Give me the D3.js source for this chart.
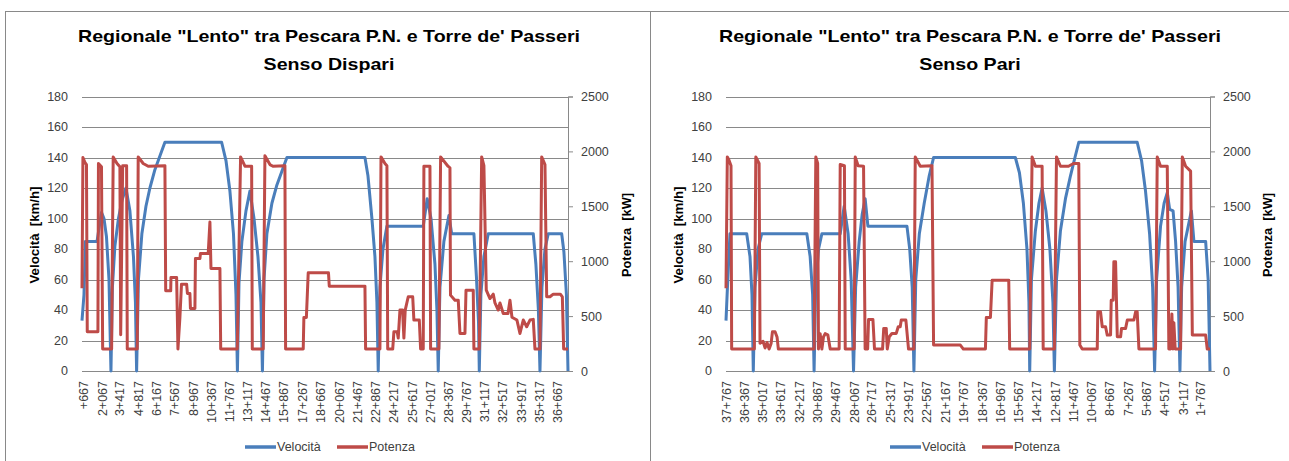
<!DOCTYPE html>
<html>
<head>
<meta charset="utf-8">
<script src="https://cdn.jsdelivr.net/npm/d3@7"></script>
<style>
body { margin: 0; background: #fff; }
text { font-family: "Liberation Sans", Arial, sans-serif; }
</style>
</head>
<body>
<script>

// chainage labels on the category axis (km+m)
var dispariLabels = ["+667","2+067","3+417","4+817","6+167","7+567","8+967","10+367","11+767","13+117","14+467","15+867","17+267","18+667","20+067","21+467","22+867","24+217","25+617","27+017","28+367","29+767","31+117","32+517","33+917","35+317","36+667"];
var pariLabels = ["37+767","36+367","35+017","33+617","32+217","30+867","29+467","28+067","26+717","25+317","23+917","22+567","21+167","19+767","18+367","16+967","15+567","14+217","12+817","11+467","10+067","8+667","7+267","5+867","4+517","3+117","1+767"];

var velTicks = [0, 20, 40, 60, 80, 100, 120, 140, 160, 180];
var potTicks = [0, 500, 1000, 1500, 2000, 2500];

// [km, km/h]
var dispariVelocita = [
  [0.52,33],[0.67,50],[0.78,85],[1.66,85],[2.00,104],[2.19,100],[2.38,88],[2.57,60],[2.72,0],[2.83,55],[3.02,82],[3.29,100],[3.56,112],[3.86,120],[4.16,105],[4.43,75],[4.58,45],[4.67,0],
  [4.81,60],[5.07,90],[5.38,108],[5.68,120],[6.06,132],[6.44,141],[6.82,150],[11.13,150],[11.46,138],[11.76,118],[12.03,90],[12.22,50],[12.33,0],
  [12.45,58],[12.67,85],[12.98,105],[13.28,118],[13.59,100],[13.89,75],[14.12,45],[14.23,0],[14.35,60],[14.57,90],[14.95,110],[15.33,122],[15.71,131],[16.09,140],
  [22.02,140],[22.25,128],[22.55,100],[22.78,75],[22.93,45],[23.03,0],[23.16,55],[23.39,80],[23.69,95],[26.45,95],[26.75,113],[27.04,100],[27.34,70],[27.49,40],[27.59,0],
  [27.72,55],[28.02,85],[28.40,102],[28.61,90],[30.30,90],[30.49,62],[30.65,32],[30.71,0],[30.83,50],[31.06,75],[31.39,90],[34.81,90],[35.01,70],[35.20,40],[35.32,0],
  [35.47,55],[35.70,80],[35.95,90],[36.97,90],[37.14,78],[37.33,50],[37.45,0]
];

// [km, kW]
var dispariPotenza = [
  [0.52,754],[0.59,1944],[0.74,1900],[0.86,1880],[0.92,357],[1.73,357],[1.77,1890],[2.00,1860],[2.09,200],[2.77,200],[2.89,1950],[3.18,1890],[3.40,1860],[3.46,330],[3.61,1870],[3.91,1870],[3.96,200],
  [4.72,200],[4.79,1950],[5.17,1890],[5.55,1865],[6.82,1870],[6.88,730],[7.26,730],[7.28,852],[7.71,852],[7.81,200],[7.96,488],[8.08,791],[8.47,791],[8.53,706],[8.72,706],[8.76,570],[9.10,570],
  [9.14,1024],[9.48,1024],[9.52,1070],[10.11,1070],[10.24,1357],[10.32,933],[11.00,933],[11.06,200],[12.32,200],[12.57,1950],[12.90,1865],[13.41,1865],[13.46,200],[14.29,200],
  [14.42,1960],[14.80,1880],[15.03,1865],[15.94,1870],[15.99,200],[17.33,200],[17.38,488],[17.57,488],[17.71,894],[19.25,894],[19.31,773],[22.02,773],[22.07,200],[23.16,200],
  [23.24,1950],[23.54,1890],[23.69,1870],[23.75,200],[24.13,200],[24.22,357],[24.47,357],[24.55,300],[24.68,555],[24.88,555],[24.98,300],[25.08,555],[25.31,676],[25.65,676],[25.74,464],[26.15,464],[26.25,200],[26.45,200],
  [26.50,1865],[26.96,1865],[27.01,200],[27.64,200],[27.77,1950],[28.33,1865],[28.48,1850],[28.52,691],[28.86,645],[29.11,645],[29.24,342],[29.62,342],[29.70,736],[30.25,736],[30.30,200],[30.71,200],
  [30.89,1950],[31.06,1870],[31.24,736],[31.52,660],[31.77,700],[31.90,620],[32.15,555],[32.28,620],[32.53,524],[32.89,524],[33.04,645],[33.19,490],[33.57,464],[33.80,342],[34.05,464],[34.31,403],[34.56,464],[34.81,470],[34.94,200],[35.32,200],
  [35.45,1950],[35.70,1880],[35.83,676],[36.08,676],[36.33,700],[36.87,700],[37.02,676],[37.12,200],[37.45,200]
];

var pariVelocita = [
  [37.79,33],[37.68,55],[37.49,90],[36.22,90],[35.97,75],[35.82,50],[35.72,0],[35.59,55],[35.36,80],[35.08,90],[31.66,90],[31.41,75],[31.22,50],[31.11,0],[30.99,55],[30.77,80],[30.52,90],
  [29.13,90],[28.83,108],[28.53,90],[28.30,60],[28.12,0],[27.96,55],[27.69,85],[27.46,103],[27.24,113],[27.03,95],[24.07,95],[23.86,80],[23.67,55],[23.54,0],
  [23.40,60],[23.13,90],[22.76,110],[22.38,128],[22.05,140],[15.85,140],[15.54,130],[15.24,110],[14.97,80],[14.82,45],[14.76,0],[14.63,60],[14.33,92],[14.06,110],[13.82,120],
  [13.53,105],[13.23,80],[13.00,45],[12.89,0],[12.73,60],[12.43,92],[12.05,113],[11.67,128],[11.33,140],[11.04,150],[6.61,150],[6.28,138],[5.98,118],[5.67,90],[5.44,55],[5.29,0],
  [5.14,60],[4.84,95],[4.57,110],[4.33,117],[4.15,106],[3.89,105],[3.70,85],[3.51,55],[3.37,0],[3.24,55],[2.98,85],[2.50,105],[2.31,85],[1.42,85],[1.23,60],[1.09,0]
];

var pariPotenza = [
  [37.79,754],[37.69,1950],[37.56,1920],[37.41,1870],[37.36,200],[35.64,200],[35.53,1950],[35.28,1890],[35.21,252],[34.98,270],[34.83,210],[34.68,260],[34.52,200],[34.37,250],[34.27,357],[34.07,357],[33.92,310],[33.82,200],
  [31.11,200],[30.98,1950],[30.84,1890],[30.78,200],[30.65,340],[30.52,200],[30.40,310],[30.27,340],[30.07,330],[29.89,200],[29.21,200],[29.13,1880],[28.81,1870],[28.75,200],
  [28.07,200],[27.99,1950],[27.77,1870],[27.36,1865],[27.24,200],[27.05,200],[26.98,470],[26.65,470],[26.53,200],[25.92,200],[25.83,388],[25.64,388],[25.56,200],[25.41,312],[25.21,342],[24.88,342],[24.73,403],[24.58,403],[24.50,464],[24.15,464],[23.95,200],
  [23.54,200],[23.44,1950],[23.06,1865],[22.17,1870],[22.05,236],[20.02,236],[19.79,200],[18.12,200],[18.05,488],[17.74,488],[17.61,827],[16.35,827],[16.28,200],
  [14.76,200],[14.58,1950],[14.33,1865],[13.82,1865],[13.74,200],[12.89,200],[12.73,1950],[12.43,1865],[11.82,1865],[11.44,1890],[11.04,1890],[10.96,236],[10.78,200],
  [9.64,200],[9.60,539],[9.39,539],[9.26,403],[9.01,403],[8.88,327],[8.63,327],[8.58,645],[8.43,645],[8.38,994],[8.25,994],[8.12,312],[7.87,312],[7.80,388],[7.49,388],[7.36,464],[6.86,464],[6.73,539],[6.61,539],[6.48,200],
  [5.22,200],[5.09,1950],[4.84,1865],[4.33,1865],[4.21,200],[4.08,200],[3.98,520],[3.90,200],[3.83,440],[3.73,200],[3.32,200],[3.19,1950],[2.94,1865],[2.56,1820],[2.43,327],[1.42,327],[1.30,200],[1.09,200]
];

var BLUE = "#4a7ebb",
    RED = "#be4b48",
    GRID = "#898989",
    LABEL = "#404040";

var width = 1289,
    height = 461;

var svg = d3.select("body").append("svg")
    .attr("width", width)
    .attr("height", height);

// chart area borders
svg.append("rect")
    .attr("x", 5.5).attr("y", 11.5)
    .attr("width", 645).attr("height", 480)
    .attr("fill", "none").attr("stroke", GRID);
svg.append("rect")
    .attr("x", 650.5).attr("y", 11.5)
    .attr("width", 700).attr("height", 480)
    .attr("fill", "none").attr("stroke", GRID);

function kmOf(label) {
    var parts = label.split("+");
    return (+parts[0] || 0) + (+parts[1]) / 1000;
}

function crisp(v) { return Math.round(v) + 0.5; }

function drawPanel(p) {
    var g = svg.append("g");

    var x = d3.scaleLinear().domain(p.domain).range([p.x0, p.x1]);
    var yv = d3.scaleLinear().domain([0, 180]).range([371, 96.5]);
    var yp = d3.scaleLinear().domain([0, 2500]).range([371, 96.5]);

    // titles
    var t1 = g.append("text")
        .attr("x", p.titleCx).attr("y", 42)
        .attr("text-anchor", "middle")
        .style("font-size", "17px").style("font-weight", "bold")
        .text('Regionale "Lento" tra Pescara P.N. e Torre de\' Passeri');
    var natural = t1.node().getComputedTextLength();
    var k = 502 / natural;
    t1.attr("textLength", 502).attr("lengthAdjust", "spacingAndGlyphs");
    var t2 = g.append("text")
        .attr("x", p.titleCx).attr("y", 70)
        .attr("text-anchor", "middle")
        .style("font-size", "17px").style("font-weight", "bold")
        .text(p.subtitle);
    t2.attr("textLength", t2.node().getComputedTextLength() * k).attr("lengthAdjust", "spacingAndGlyphs");

    // horizontal gridlines
    g.selectAll(".grid").data(velTicks).enter().append("line")
        .attr("x1", p.x0).attr("x2", p.x1)
        .attr("y1", function(d) { return crisp(yv(d)); })
        .attr("y2", function(d) { return crisp(yv(d)); })
        .attr("stroke", GRID).attr("stroke-width", 1);

    // left axis labels
    g.selectAll(".vl").data(velTicks).enter().append("text")
        .attr("x", p.x0 - 14).attr("y", function(d) { return yv(d); })
        .attr("dy", "0.35em").attr("text-anchor", "end")
        .style("font-size", "12.5px").attr("fill", LABEL)
        .text(function(d) { return d; });

    // secondary axis
    var ax = g.append("g")
        .attr("transform", "translate(" + (crisp(p.x1) - 0.5) + ",0)")
        .call(d3.axisRight(yp).tickValues(potTicks).tickSize(5).tickPadding(8).tickFormat(d3.format("d")));
    ax.select(".domain").attr("stroke", GRID);
    ax.selectAll(".tick line").attr("stroke", GRID);
    ax.selectAll(".tick text")
        .style("font-size", "12.5px").style("font-family", '"Liberation Sans", Arial, sans-serif')
        .attr("fill", LABEL);

    // category labels
    g.selectAll(".cl").data(p.labels).enter().append("text")
        .attr("transform", function(d) { return "translate(" + x(kmOf(d)) + ",381) rotate(-90)"; })
        .attr("dy", "0.35em").attr("text-anchor", "end")
        .style("font-size", "12.5px").attr("fill", LABEL)
        .text(function(d) { return d; });

    // axis titles
    var vt = g.append("text")
        .attr("transform", "translate(" + p.velTitleX + ",235) rotate(-90)")
        .attr("text-anchor", "middle")
        .style("font-size", "12px").style("font-weight", "bold")
        .text("Velocit\u00e0\u00a0 [km/h]");
    vt.attr("textLength", 97).attr("lengthAdjust", "spacingAndGlyphs");
    var pt = g.append("text")
        .attr("transform", "translate(" + p.potTitleX + ",235) rotate(-90)")
        .attr("text-anchor", "middle")
        .style("font-size", "12px").style("font-weight", "bold")
        .text("Potenza\u00a0 [kW]");
    pt.attr("textLength", 84).attr("lengthAdjust", "spacingAndGlyphs");

    // series
    var lineV = d3.line().x(function(d) { return x(d[0]); }).y(function(d) { return yv(d[1]); });
    var lineP = d3.line().x(function(d) { return x(d[0]); }).y(function(d) { return yp(d[1]); });

    g.append("path").datum(p.vel)
        .attr("d", lineV)
        .attr("fill", "none").attr("stroke", BLUE)
        .attr("stroke-width", 3).attr("stroke-linejoin", "round");
    g.append("path").datum(p.pot)
        .attr("d", lineP)
        .attr("fill", "none").attr("stroke", RED)
        .attr("stroke-width", 3).attr("stroke-linejoin", "round");

    // legend
    var ly = 447;
    var leg = [
        { name: "Velocit\u00e0", color: BLUE, dx: -85 },
        { name: "Potenza", color: RED, dx: 7 }
    ];
    leg.forEach(function(l) {
        g.append("line")
            .attr("x1", p.legendCx + l.dx).attr("x2", p.legendCx + l.dx + 31)
            .attr("y1", ly).attr("y2", ly)
            .attr("stroke", l.color).attr("stroke-width", 3.5);
        g.append("text")
            .attr("x", p.legendCx + l.dx + 32).attr("y", ly)
            .attr("dy", "0.35em")
            .style("font-size", "12.5px").attr("fill", LABEL)
            .text(l.name);
    });
}

drawPanel({
    subtitle: "Senso Dispari",
    x0: 82, x1: 568,
    domain: [0.52, 37.45],
    labels: dispariLabels,
    vel: dispariVelocita,
    pot: dispariPotenza,
    titleCx: 329,
    velTitleX: 39,
    potTitleX: 631,
    legendCx: 330
});

drawPanel({
    subtitle: "Senso Pari",
    x0: 726, x1: 1210,
    domain: [37.79, 1.09],
    labels: pariLabels,
    vel: pariVelocita,
    pot: pariPotenza,
    titleCx: 970,
    velTitleX: 683,
    potTitleX: 1272,
    legendCx: 975
});

</script>
</body>
</html>
